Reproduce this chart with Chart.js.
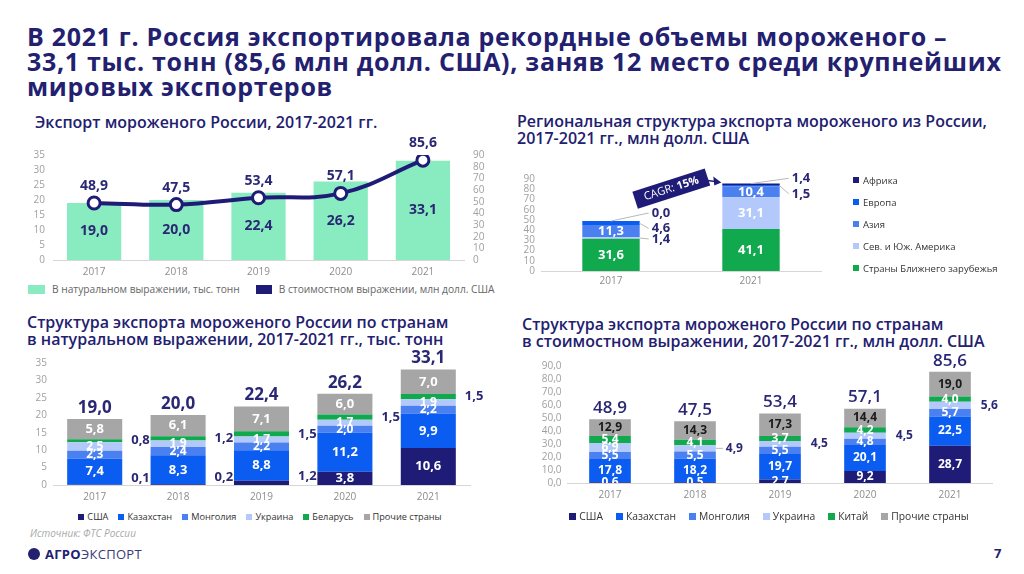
<!DOCTYPE html>
<html lang="ru">
<head>
<meta charset="utf-8">
<title>Экспорт мороженого России</title>
<script src="https://cdn.jsdelivr.net/npm/chart.js@4.4.1/dist/chart.umd.min.js"></script>
<style>
  body { margin: 0; width: 1024px; height: 574px; position: relative; overflow: hidden; background: #fff; font-family: 'Open Sans', sans-serif; color: #22206f; }
  .abs { position: absolute; }
  .head { left: 27px; top: 24px; font-size: 25px; font-weight: 700; line-height: 25px; letter-spacing: 0.7px; white-space: nowrap; }
  .sub { font-size: 16px; font-weight: 600; line-height: 17px; white-space: nowrap; }
  canvas { position: absolute; }
  .leg { display: flex; align-items: center; white-space: nowrap; color: #333; }
  .leg span.sw { display: inline-block; margin-right: 3px; }
  .src { left: 30px; top: 526px; font-size: 10px; font-style: italic; color: #a8a8a8; }
  .logo { left: 28px; top: 545px; font-size: 13px; display: flex; align-items: center; letter-spacing: 0.3px; }
  .logo i { display: inline-block; width: 12px; height: 12px; border-radius: 50%; background: #22206f; margin-right: 5px; }
  .page { left: 994px; top: 544px; font-size: 13px; font-weight: 700; }
</style>
</head>
<body>

<div class="abs head">В 2021 г. Россия экспортировала рекордные объемы мороженого –<br>33,1 тыс. тонн (85,6 млн долл. США), заняв 12 место среди крупнейших<br>мировых экспортеров</div>

<div class="abs sub" style="left:35px;top:114px">Экспорт мороженого России, 2017-2021 гг.</div>
<div class="abs sub" style="left:517px;top:113px">Региональная структура экспорта мороженого из России,<br>2017-2021 гг., млн долл. США</div>
<div class="abs sub" style="left:27px;top:314px">Структура экспорта мороженого России по странам<br>в натуральном выражении, 2017-2021 гг., тыс. тонн</div>
<div class="abs sub" style="left:522px;top:316px">Структура экспорта мороженого России по странам<br>в стоимостном выражении, 2017-2021 гг., млн долл. США</div>

<canvas id="c1" width="510" height="150" style="left:0;top:130px"></canvas>
<canvas id="c2" width="340" height="130" style="left:505px;top:165px"></canvas>
<canvas id="c3" width="510" height="165" style="left:0;top:345px"></canvas>
<canvas id="c4" width="514" height="165" style="left:510px;top:345px"></canvas>

<div id="leg1" class="abs leg" style="left:28px;top:282px;font-size:10.2px;color:#666"></div>
<div id="leg2" class="abs" style="left:853px;top:169px;font-size:9.5px;color:#333"></div>
<div id="leg3" class="abs leg" style="left:0;width:510px;justify-content:center;top:510px;font-size:9.2px;padding-left:5px"></div>
<div id="leg4" class="abs leg" style="left:510px;width:514px;justify-content:center;top:509px;font-size:10.3px;padding-left:2px"></div>

<div class="abs src">Источник: ФТС России</div>
<div class="abs logo"><i></i><b>АГРО</b><span style="color:#3a3a7a">ЭКСПОРТ</span></div>
<div class="abs page">7</div>

<script>
'use strict';

// ---- data ----
var years = ['2017', '2018', '2019', '2020', '2021'];

// top left: export volume and value
var volumeTons = [19.0, 20.0, 22.4, 26.2, 33.1];
var valueUsd = [48.9, 47.5, 53.4, 57.1, 85.6];

// top right: regional structure, mln USD
var regionYears = ['2017', '2021'];
var regionNear = [31.6, 41.1];
var regionAmerica = [1.4, 31.1];
var regionAsia = [11.3, 10.4];
var regionEurope = [4.6, 1.5];
var regionAfrica = [0.0, 1.4];
var cagrText = '15%';

// bottom left: by country, thousand tonnes
var tonsUsa = [0.1, 0.2, 1.2, 3.8, 10.6];
var tonsKaz = [7.4, 8.3, 8.8, 11.2, 9.9];
var tonsMon = [2.3, 2.4, 2.2, 2.0, 2.2];
var tonsUkr = [2.5, 1.9, 1.7, 1.7, 1.9];
var tonsBel = [0.8, 1.2, 1.5, 1.5, 1.5];
var tonsOther = [5.8, 6.1, 7.1, 6.0, 7.0];
var tonsTotal = [19.0, 20.0, 22.4, 26.2, 33.1];

// bottom right: by country, mln USD
var usdUsa = [0.6, 0.5, 2.7, 9.2, 28.7];
var usdKaz = [17.8, 18.2, 19.7, 20.1, 22.5];
var usdMon = [5.5, 5.5, 5.5, 4.8, 5.7];
var usdUkr = [6.9, 4.9, 4.5, 4.5, 5.6];
var usdChina = [5.4, 4.1, 3.7, 4.2, 4.0];
var usdOther = [12.9, 14.3, 17.3, 14.4, 19.0];
var usdTotal = [48.9, 47.5, 53.4, 57.1, 85.6];

// colours
var NAVY = '#1f1c78', BLUE = '#0b5cf0', MID = '#4a80f0', LIGHT = '#b4c9fb',
    GREEN = '#10a94e', GREY = '#a6a6a6', MINT = '#89ebc0', TXT = '#2a2874';
var FONT = "'Open Sans', sans-serif";

function fmt(v) { return v.toFixed(1).replace('.', ','); }

// draws value labels inside / beside bars, above line points and totals over stacks
var valueLabels = {
  id: 'valueLabels',
  afterDatasetsDraw: function (chart) {
    var ctx = chart.ctx, area = chart.chartArea;
    chart.data.datasets.forEach(function (ds, di) {
      var o = ds.lbl;
      if (!o) return;
      chart.getDatasetMeta(di).data.forEach(function (el, i) {
        var where = o.where ? o.where[i] : 'in';
        if (where === 'none') return;
        var p = el.getProps(['x', 'y', 'base', 'width'], true);
        var text = fmt(ds.data[i]);
        ctx.save();
        ctx.font = o.font;
        ctx.textBaseline = 'middle';
        ctx.fillStyle = o.color;
        if (ds.type === 'line') {
          ctx.textAlign = 'center';
          ctx.fillText(text, p.x, p.y - o.above);
        } else if (where === 'in') {
          ctx.beginPath();
          ctx.rect(area.left, 0, area.right - area.left, area.bottom);
          ctx.clip();
          ctx.textAlign = 'center';
          ctx.fillText(text, p.x, (p.y + p.base) / 2 + (o.dy ? o.dy[i] : 0));
        } else {
          var cy = (p.y + p.base) / 2;
          var ty = cy + (o.outDy ? o.outDy[i] : 0);
          var right = p.x + p.width / 2;
          var tx = right + o.gap;
          var lead = o.leader ? o.leader[i] : null;
          if (lead) {
            ctx.strokeStyle = '#b8b8b8';
            ctx.lineWidth = 1;
            ctx.beginPath();
            if (lead === 'top') ctx.moveTo(p.x, p.y);
            else ctx.moveTo(right, cy);
            ctx.lineTo(tx - 3, ty);
            ctx.stroke();
          }
          ctx.fillStyle = o.outColor || o.color;
          ctx.textAlign = 'left';
          ctx.fillText(text, tx, ty);
        }
        ctx.restore();
      });
    });
    var t = chart.options.plugins.valueLabels;
    if (t && t.totals) {
      var metaTop = chart.getDatasetMeta(chart.data.datasets.length - 1);
      ctx.save();
      ctx.font = t.font;
      ctx.fillStyle = TXT;
      ctx.textAlign = 'center';
      ctx.textBaseline = 'middle';
      metaTop.data.forEach(function (el, i) {
        ctx.fillText(fmt(t.totals[i]), el.x, el.y - t.gap);
      });
      ctx.restore();
    }
  }
};

function fixWidth(w) { return function (s) { s.width = w; }; }
function fixHeight(h) { return function (s) { s.height = h; }; }

var tickFont = { family: FONT, size: 10 };

function xAxis(h, pad) {
  return {
    stacked: true,
    grid: { display: false, drawTicks: false },
    border: { display: true, color: '#d6d6d6' },
    ticks: { font: tickFont, color: '#8c8c8c', padding: pad },
    afterFit: fixHeight(h)
  };
}

function yAxis(max, step, width, pad, extra) {
  var ax = {
    stacked: true, min: 0, max: max,
    ticks: { stepSize: step, autoSkip: false, font: tickFont, color: '#a0a0a0', padding: pad },
    grid: { display: false, drawTicks: false }, border: { display: false },
    afterFit: fixWidth(width)
  };
  if (extra) Object.keys(extra).forEach(function (k) { ax[k] = extra[k]; });
  return ax;
}

Chart.defaults.font.family = FONT;
Chart.defaults.animation = false;

// ---- chart 1: volume bars + value line ----
new Chart(document.getElementById('c1'), {
  data: {
    labels: years,
    datasets: [{
      type: 'line',
      label: 'В стоимостном выражении, млн долл. США',
      data: valueUsd,
      yAxisID: 'y1',
      borderColor: NAVY,
      borderWidth: 4,
      tension: 0.4,
      pointRadius: 6,
      pointBorderWidth: 3,
      pointBackgroundColor: '#fff',
      pointBorderColor: NAVY,
      order: 0,
      lbl: { font: 'bold 14px ' + FONT, color: TXT, above: 17 }
    }, {
      type: 'bar',
      label: 'В натуральном выражении, тыс. тонн',
      data: volumeTons,
      yAxisID: 'y',
      backgroundColor: MINT,
      categoryPercentage: 1,
      barPercentage: 0.66,
      order: 1,
      lbl: { font: 'bold 14px ' + FONT, color: TXT }
    }]
  },
  options: {
    responsive: false,
    layout: { padding: { top: 25, right: 0, left: 0 } },
    plugins: { legend: { display: false }, tooltip: { enabled: false } },
    scales: {
      x: xAxis(20, 6),
      y: yAxis(35, 5, 53, 8, { stacked: false }),
      y1: yAxis(90, 10, 46, 9, { stacked: false, position: 'right' })
    }
  },
  plugins: [valueLabels]
});

// ---- chart 2: regional structure ----
var cagrBadge = {
  id: 'cagrBadge',
  afterDatasetsDraw: function (chart) {
    var ctx = chart.ctx;
    var top = chart.getDatasetMeta(chart.data.datasets.length - 1).data;
    var a = top[0].getProps(['x', 'y'], true);
    var b = top[1].getProps(['x', 'y', 'width'], true);
    var tipX = b.x - b.width / 2 - 1, tipY = b.y - 1;
    var cx = tipX - 50, cy = tipY + 6;
    var ang = Math.atan2(b.y - a.y, b.x - a.x) - 0.05;
    ctx.save();
    // arrow head
    ctx.fillStyle = NAVY;
    ctx.beginPath();
    ctx.moveTo(tipX, tipY);
    ctx.lineTo(tipX - 8, tipY - 6);
    ctx.lineTo(tipX - 7, tipY + 3);
    ctx.closePath();
    ctx.fill();
    ctx.strokeStyle = NAVY;
    ctx.lineWidth = 1.5;
    ctx.beginPath();
    ctx.moveTo(cx + 36, cy - 8);
    ctx.lineTo(tipX - 6, tipY - 1);
    ctx.stroke();
    // badge
    ctx.translate(cx, cy);
    ctx.rotate(ang);
    ctx.fillStyle = NAVY;
    ctx.fillRect(-38, -9, 76, 18);
    ctx.fillStyle = '#fff';
    ctx.textBaseline = 'middle';
    ctx.font = '11px ' + FONT;
    var w1 = ctx.measureText('CAGR: ').width;
    ctx.font = 'bold 11px ' + FONT;
    var w2 = ctx.measureText(cagrText).width;
    var sx = -(w1 + w2) / 2;
    ctx.font = '11px ' + FONT;
    ctx.fillText('CAGR: ', sx, 0);
    ctx.font = 'bold 11px ' + FONT;
    ctx.fillText(cagrText, sx + w1, 0);
    ctx.restore();
  }
};

var regionSets = [
  { label: 'Страны Ближнего зарубежья', data: regionNear, backgroundColor: GREEN,
    lbl: { font: 'bold 13px ' + FONT, color: '#fff' } },
  { label: 'Сев. и Юж. Америка', data: regionAmerica, backgroundColor: LIGHT,
    lbl: { font: 'bold 13px ' + FONT, color: '#fff', outColor: TXT, where: ['out', 'in'], outDy: [1, 0], gap: 12, leader: ['side', null] } },
  { label: 'Азия', data: regionAsia, backgroundColor: MID,
    lbl: { font: 'bold 13px ' + FONT, color: '#fff' } },
  { label: 'Европа', data: regionEurope, backgroundColor: BLUE,
    lbl: { font: 'bold 13px ' + FONT, color: TXT, where: ['out', 'out'], outDy: [5, 8], gap: 12, leader: ['side', 'side'] } },
  { label: 'Африка', data: regionAfrica, backgroundColor: NAVY,
    lbl: { font: 'bold 13px ' + FONT, color: TXT, where: ['out', 'out'], outDy: [-8, -6], gap: 12, leader: ['top', 'top'] } }
];
regionSets.forEach(function (d) { d.categoryPercentage = 1; d.barPercentage = 0.41; });

new Chart(document.getElementById('c2'), {
  type: 'bar',
  data: { labels: regionYears, datasets: regionSets },
  options: {
    responsive: false,
    layout: { padding: { top: 14, right: 24 } },
    plugins: { legend: { display: false }, tooltip: { enabled: false } },
    scales: {
      x: xAxis(24, 4),
      y: yAxis(90, 10, 36, 6)
    }
  },
  plugins: [valueLabels, cagrBadge]
});

// ---- chart 3: by country, tonnes ----
var tonsSets = [
  { label: 'США', data: tonsUsa, backgroundColor: NAVY,
    lbl: { font: 'bold 13px ' + FONT, color: '#fff', outColor: TXT, where: ['out', 'out', 'out', 'in', 'in'], outDy: [-7, -7, -7, 0, 0], gap: 9 } },
  { label: 'Казахстан', data: tonsKaz, backgroundColor: BLUE, lbl: { font: 'bold 13px ' + FONT, color: '#fff' } },
  { label: 'Монголия', data: tonsMon, backgroundColor: MID, lbl: { font: 'bold 12px ' + FONT, color: '#fff' } },
  { label: 'Украина', data: tonsUkr, backgroundColor: LIGHT, lbl: { font: 'bold 12px ' + FONT, color: '#fff' } },
  { label: 'Беларусь', data: tonsBel, backgroundColor: GREEN,
    lbl: { font: 'bold 13px ' + FONT, color: TXT, where: ['out', 'out', 'out', 'out', 'out'], gap: 9 } },
  { label: 'Прочие страны', data: tonsOther, backgroundColor: GREY, lbl: { font: 'bold 13px ' + FONT, color: '#fff' } }
];
tonsSets.forEach(function (d) { d.categoryPercentage = 1; d.barPercentage = 0.66; });

new Chart(document.getElementById('c3'), {
  type: 'bar',
  data: { labels: years, datasets: tonsSets },
  options: {
    responsive: false,
    layout: { padding: { top: 18, right: 40 } },
    plugins: {
      legend: { display: false }, tooltip: { enabled: false },
      valueLabels: { totals: tonsTotal, font: 'bold 17px ' + FONT, gap: 11 }
    },
    scales: {
      x: xAxis(25, 6),
      y: yAxis(35, 5, 53, 6)
    }
  },
  plugins: [valueLabels]
});

// ---- chart 4: by country, mln USD ----
var usdSets = [
  { label: 'США', data: usdUsa, backgroundColor: NAVY, lbl: { font: 'bold 12px ' + FONT, color: '#fff' } },
  { label: 'Казахстан', data: usdKaz, backgroundColor: BLUE, lbl: { font: 'bold 12px ' + FONT, color: '#fff' } },
  { label: 'Монголия', data: usdMon, backgroundColor: MID, lbl: { font: 'bold 12px ' + FONT, color: '#fff' } },
  { label: 'Украина', data: usdUkr, backgroundColor: LIGHT,
    lbl: { font: 'bold 12px ' + FONT, color: '#fff', outColor: TXT, where: ['in', 'out', 'out', 'out', 'out'], gap: 10, leader: [null, 'side', null, null, null] } },
  { label: 'Китай', data: usdChina, backgroundColor: GREEN, lbl: { font: 'bold 12px ' + FONT, color: '#fff' } },
  { label: 'Прочие страны', data: usdOther, backgroundColor: GREY, lbl: { font: 'bold 12px ' + FONT, color: '#1a1a1a' } }
];
usdSets.forEach(function (d) { d.categoryPercentage = 1; d.barPercentage = 0.49; });

new Chart(document.getElementById('c4'), {
  type: 'bar',
  data: { labels: years, datasets: usdSets },
  options: {
    responsive: false,
    layout: { padding: { top: 21, right: 31.5 } },
    plugins: {
      legend: { display: false }, tooltip: { enabled: false },
      valueLabels: { totals: usdTotal, font: '600 17px ' + FONT, gap: 11 }
    },
    scales: {
      x: xAxis(27, 6),
      y: yAxis(90, 10, 57.5, 6, {
        ticks: { stepSize: 10, autoSkip: false, font: tickFont, color: '#a0a0a0', padding: 6, callback: function (v) { return fmt(v); } }
      })
    }
  },
  plugins: [valueLabels]
});

// ---- html legends ----
function legendRow(id, sets, gap, sw) {
  var box = document.getElementById(id);
  sets.forEach(function (d, i) {
    var item = document.createElement('span');
    item.style.display = 'inline-flex';
    item.style.alignItems = 'center';
    if (i) item.style.marginLeft = gap + 'px';
    item.innerHTML = '<span class="sw" style="background:' + d.backgroundColor + ';width:' + sw + 'px;height:' + sw + 'px"></span>' + d.label;
    box.appendChild(item);
  });
}
legendRow('leg3', tonsSets, 10, 6);
legendRow('leg4', usdSets, 13, 7);

var leg1 = document.getElementById('leg1');
leg1.innerHTML = '<span style="display:inline-block;width:17px;height:9px;background:' + MINT + ';margin-right:7px"></span>В натуральном выражении, тыс. тонн' +
  '<span style="display:inline-block;width:16px;height:9px;background:' + NAVY + ';margin:0 7px 0 16px"></span>В стоимостном выражении, млн долл. США';

var leg2 = document.getElementById('leg2');
regionSets.slice().reverse().forEach(function (d) {
  var row = document.createElement('div');
  row.style.cssText = 'height:22px;display:flex;align-items:center';
  row.innerHTML = '<span style="display:inline-block;width:6px;height:6px;margin-right:4px;background:' + d.backgroundColor + '"></span>' + d.label;
  leg2.appendChild(row);
});
</script>
</body>
</html>
